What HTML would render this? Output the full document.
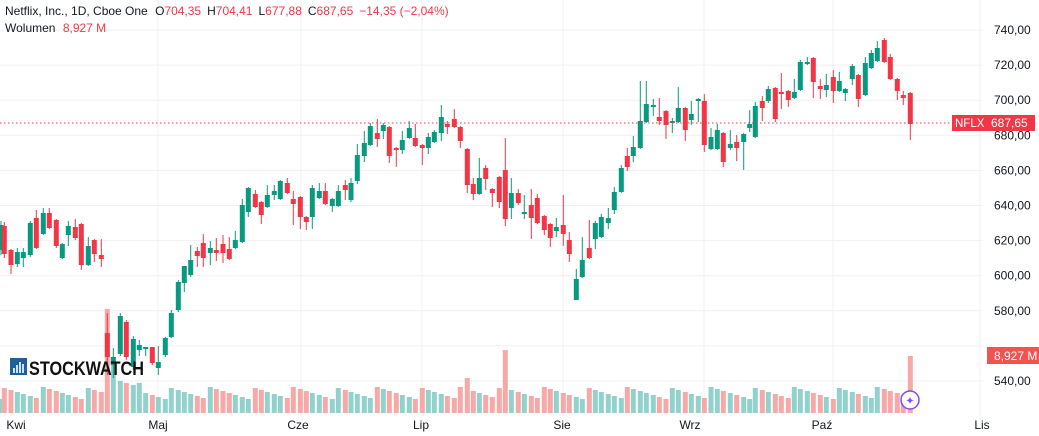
<!DOCTYPE html><html><head><meta charset="utf-8"><style>
body{margin:0;background:#fff;width:1039px;height:436px;overflow:hidden;font-family:"Liberation Sans",sans-serif}
svg{display:block}
</style></head><body>
<svg id="s" width="1039" height="436" xmlns="http://www.w3.org/2000/svg" font-family="Liberation Sans, sans-serif"></svg>
<script>
var G='#089981',R='#f23645',GV='#92d2cc',RV='#f7a9a7';
// [x, bodyTop, bodyBot, wickTop, wickBot, color]
var c=[
[1,225,250,221,255,'g'],[4.3,226,254,222,258,'r'],[11,250,265,249,274,'r'],[17.3,252,264,248,267,'g'],[23.3,252,258,248,267,'g'],[30.3,223,255,221,257,'g'],[36.3,218,248,210,249,'r'],[43.3,213,234,208,235,'g'],[49.3,213,228,208,229,'r'],[56.3,220,246,219,248,'r'],[62.3,244,258,243,259,'g'],[68.3,226,235,221,246,'g'],[75.3,227,238,219,240,'r'],[81.3,224,265,223,270,'r'],[88.3,246,265,237,266,'g'],[94.3,240,254,239,262,'r'],[101.3,255,259,239,267,'r'],
[107.3,333,357,313,375,'r'],[113.3,357,365,348,378,'g'],[120.3,316,354,313,356,'g'],[126.3,322,357,320,360,'r'],[133.3,339,367,336,370,'g'],[139.3,345,350,340,356,'g'],[145.7,347,349,347,356,'g'],[152.3,347,363,347,365,'r'],[158.3,362,368,346,375,'g'],[165.3,338,355,337,357,'g'],[171.3,313,337,310,338,'g'],[178.3,282,310,280,312,'g'],[184.3,266,283,266,292,'g'],[190.7,260,275,245,277,'g'],[197.3,251,256,247,267,'r'],[203.3,243,258,234,267,'r'],[210.3,248,253,241,265,'g'],[216.3,250,253,238,261,'r'],[223,244,253,235,263,'r'],[229.3,249,259,237,260,'r'],[235.3,240,248,231,249,'g'],[242.3,205,242,199,243,'g'],[248.3,188,212,187,217,'g'],[255.3,194,207,190,208,'r'],[261.3,202,215,201,224,'r'],[267.3,195,207,185,208,'g'],[274.3,191,195,185,200,'g'],[280.3,181,199,180,200,'g'],[287.3,183,193,178,194,'r'],[293.3,199,204,191,225,'r'],[300.3,197,217,196,229,'r'],[306.3,217,222,216,230,'r'],[312.3,188,217,185,229,'g'],[319.3,191,198,183,199,'g'],[325.3,191,204,183,205,'r'],[332.3,199,206,198,212,'g'],[338.3,191,206,185,207,'g'],[345.3,185,190,180,200,'r'],
[351,183,200,178,202,'g'],[357.3,155,181,144,184,'g'],[364.3,143,156,131,162,'g'],[370.3,126,145,123,146,'g'],[377.3,133,139,119,147,'r'],[383.3,125,131,123,139,'g'],[389.3,127,156,126,163,'r'],[396.3,148,150,147,167,'r'],[402.3,140,150,131,154,'g'],[409.3,128,138,121,139,'g'],[415.3,138,146,124,147,'r'],[422.3,145,148,144,165,'r'],[428.3,137,148,133,154,'g'],[434.3,132,142,130,143,'g'],[441.3,117,133,105,141,'g'],[447.3,124,127,121,134,'r'],[454.3,119,127,109,128,'r'],[460.3,127,141,126,148,'r'],[467.3,149,185,148,193,'r'],[473.3,184,194,178,200,'r'],[479.3,178,194,158,195,'g'],[485.7,168,179,165,190,'r'],[492.3,189,193,188,207,'r'],[499.3,177,202,176,208,'r'],[505.3,170,219,138,226,'r'],[511.3,193,208,178,219,'g'],[518.3,193,203,189,205,'r'],[524.3,212,214,195,219,'g'],[531.3,205,218,189,239,'r'],[537.3,198,223,194,224,'r'],[544.3,216,230,215,235,'r'],[550.3,224,238,223,247,'r'],[556.3,227,231,218,237,'g'],[563.3,225,234,195,246,'r'],[569.3,240,254,232,262,'r'],[576.3,279,300,269,300,'g'],[582.3,260,277,237,278,'g'],[589.3,248,258,220,259,'r'],[595.3,223,239,221,249,'g'],[601.3,217,237,214,238,'g'],[608.3,218,223,208,229,'g'],[614.3,192,210,187,214,'g'],[621.3,168,192,165,193,'g'],[627.3,156,167,148,171,'r'],[633.3,147,156,136,162,'g'],[640.3,121,148,81,149,'g'],[646.3,104,122,81,123,'g'],[653.3,105,107,99,116,'g'],
[659.3,117,121,98,125,'r'],[666,111,125,110,139,'r'],[672.3,121,123,118,133,'g'],[678.3,108,122,87,123,'g'],[685.3,108,130,107,141,'r'],[691.3,114,120,101,125,'g'],[698.3,99,101,98,122,'g'],[704.3,101,145,94,152,'r'],[711,137,149,128,150,'g'],[717.3,130,149,124,150,'g'],[723.3,133,162,132,167,'r'],[730.3,144,148,130,150,'g'],[736.7,142,148,135,161,'r'],[743.7,134,142,133,170,'g'],[749.7,124,128,110,132,'g'],[755.3,106,137,102,138,'g'],[762.3,101,108,96,121,'r'],[768.3,89,101,86,103,'g'],[775.3,88,119,87,122,'r'],[781.3,92,94,73,109,'r'],[788.3,91,100,90,107,'r'],[794.3,92,98,79,99,'g'],[800.3,62,90,60,91,'g'],[807.3,62,64,57,65,'g'],[813.3,58,82,57,98,'r'],[820.3,86,89,79,99,'r'],[826.3,85,90,74,97,'g'],[833.3,77,91,70,103,'r'],[839.3,81,91,72,92,'g'],[845.3,89,93,88,101,'g'],[852.3,66,79,64,85,'g'],[858.3,75,99,74,107,'r'],[865.3,63,95,57,96,'g'],[871.3,53,68,50,69,'g'],[877.3,48,61,41,62,'g'],[884.3,40,62,38,63,'r'],[890.3,57,79,54,80,'r'],[897.3,79,91,78,100,'r'],[903.3,95,98,91,105,'r'],[910.3,93,124,92,140,'r']
];
var h='';
// grid
for(var k=0;k<11;k++){var y=30+k*35.1;h+='<line x1="0" x2="983" y1="'+y+'" y2="'+y+'" stroke="#f0f0f0"/>';}
[158,301,422,563,704,833,980].forEach(function(x){h+='<line x1="'+x+'" x2="'+x+'" y1="0" y2="416" stroke="#f0f0f0"/>';});
// volume
var big={107.3:104,113.3:56,467.3:35,499.3:25,505.3:63,910.3:57,120.3:32,126.3:30,133.3:28,139.3:30};
c.forEach(function(d,i){var vh=big[d[0]]||(14+((i*37)%13));h+='<rect x="'+(d[0]-2.5)+'" y="'+(413-vh)+'" width="5" height="'+vh+'" fill="'+(d[5]=='g'?GV:RV)+'"/>';});
// candles
c.forEach(function(d){var col=d[5]=='g'?G:R;h+='<line x1="'+d[0]+'" x2="'+d[0]+'" y1="'+d[3]+'" y2="'+d[4]+'" stroke="'+col+'" stroke-width="1"/>';h+='<rect x="'+(d[0]-2.5)+'" y="'+d[1]+'" width="5" height="'+Math.max(1,d[2]-d[1])+'" fill="'+col+'"/>';});
h+='<line x1="0" x2="983" y1="123" y2="123" stroke="'+R+'" stroke-dasharray="1.5,2.5"/>';
// axis labels
var p=[740,720,700,680,660,640,620,600,580,560,540];
p.forEach(function(v,k){if(v==560)return;var y=30+k*35.1+4;h+='<text x="994" y="'+y+'" font-size="12" fill="#131722">'+v+',00</text>';});
h+='<rect x="952" y="115" width="35" height="16" fill="'+R+'"/><text x="955" y="127" font-size="11.5" fill="#fff">NFLX</text>';
h+='<rect x="987" y="115" width="48" height="16" fill="'+R+'"/><text x="991" y="127" font-size="12" fill="#fff">687,65</text>';
h+='<rect x="987" y="347" width="55" height="17" fill="#f05350"/><text x="994" y="360" font-size="12" fill="#fff">8,927 M</text>';
// x labels
[['Kwi',16],['Maj',158],['Cze',298],['Lip',421],['Sie',562],['Wrz',690],['Paź',822],['Lis',982]].forEach(function(l){h+='<text x="'+l[1]+'" y="429" font-size="12" fill="#131722" text-anchor="middle">'+l[0]+'</text>';});
// header
h+='<text x="5" y="15" font-size="12" fill="#131722">Netflix, Inc., 1D, Cboe One <tspan dx="4">O</tspan><tspan fill="'+R+'">704,35</tspan><tspan dx="6">H</tspan><tspan fill="'+R+'">704,41</tspan><tspan dx="6">L</tspan><tspan fill="'+R+'">677,88</tspan><tspan dx="6">C</tspan><tspan fill="'+R+'">687,65</tspan><tspan dx="6" fill="'+R+'">−14,35 (−2,04%)</tspan></text>';
h+='<text x="5" y="32" font-size="12" fill="#131722">Wolumen <tspan dx="4" fill="'+R+'">8,927 M</tspan></text>';
// logo
h+='<rect x="10" y="358" width="17" height="17" fill="#1f5f9e"/><rect x="13" y="368" width="2" height="5" fill="#cfe3f5"/><rect x="16" y="365" width="2" height="8" fill="#cfe3f5"/><rect x="19" y="362" width="2" height="11" fill="#cfe3f5"/><rect x="22" y="364" width="2" height="9" fill="#cfe3f5"/>';
h+='<text x="29" y="375" font-size="19" font-weight="bold" fill="#111" textLength="115" lengthAdjust="spacingAndGlyphs">STOCKWATCH</text>';
// icon
h+='<circle cx="910" cy="400" r="9" fill="#fff" stroke="#7b4dff" stroke-width="1.5"/><text x="910" y="404.5" font-size="11" fill="#7b4dff" text-anchor="middle">✦</text>';
document.getElementById('s').innerHTML=h;
</script>
</body></html>
